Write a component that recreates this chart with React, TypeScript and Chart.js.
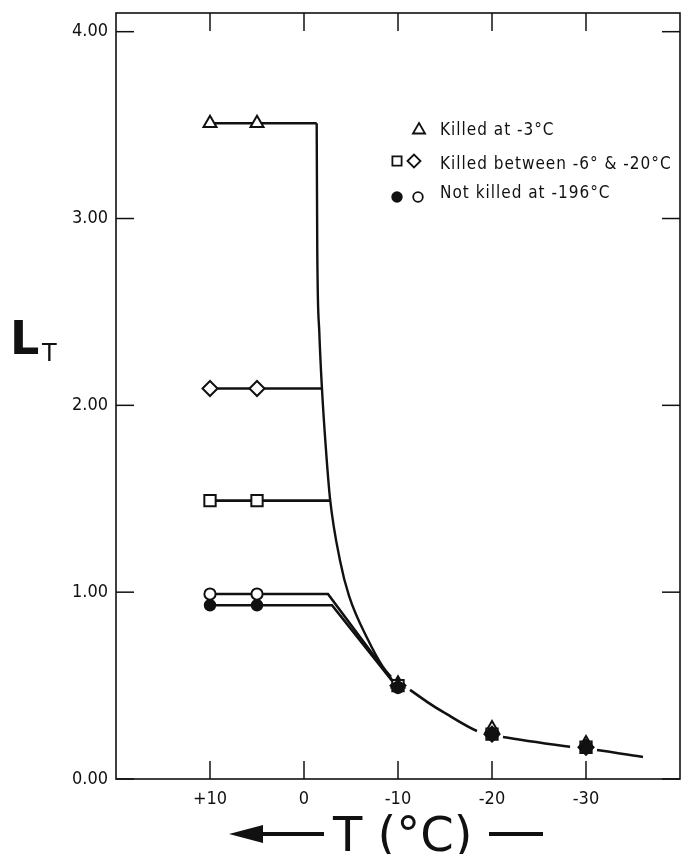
import { useEffect, useRef } from 'react';
import { Chart, registerables } from 'chart.js';
import { drawPoint } from 'chart.js/helpers';

Chart.register(...registerables);

// ---------- data ----------
const markerTemps = [10, 5, -10, -20, -30];
const triangleValues = [3.51, 3.51, 0.51, 0.27, 0.19];
const diamondValues = [2.09, 2.09, 0.5, 0.24, 0.17];
const squareValues = [1.49, 1.49, 0.5, 0.24, 0.17];
const openCircleValues = [0.99, 0.99, 0.49, 0.24, 0.17];
const filledCircleValues = [0.93, 0.93, 0.49, 0.24, 0.17];

// plateau lines (from +10 °C to where they meet the curve)
const plateauStartTemp = 10;
const plateauLevels = [3.51, 2.09, 1.49];
const plateauEndTemps = [-1.35, -1.91, -2.77];

// the two lower lines that bend down towards -10 °C
const openLineTemps = [10, -2.55, -9.36];
const openLineValues = [0.99, 0.99, 0.53];
const filledLineTemps = [10, -2.98, -9.47];
const filledLineValues = [0.93, 0.93, 0.52];

// main steep curve
const curveTemps = [-1.35, -1.41, -1.63, -1.91, -2.34, -2.77, -3.83, -4.79, -6.81, -8.4, -9.26];
const curveValues = [3.51, 2.84, 2.39, 2.09, 1.76, 1.5, 1.17, 0.98, 0.745, 0.6, 0.547];

// tail curve beyond -10 °C (broken around the markers)
const tailTemps = [-11.28, -13.09, -14.79, -18.4, -21.17, -28.3, -31.17, -36.06];
const tailValues = [0.477, 0.413, 0.359, 0.257, 0.225, 0.172, 0.155, 0.118];
const tailGapAfter = [3, 5];

const xTickValues = [10, 0, -10, -20, -30];
const yTickValues = [0, 1, 2, 3, 4];

const legendLabels = ['Killed at -3°C', 'Killed between -6° & -20°C', 'Not killed at -196°C'];
const xTitle = 'T (°C)';
const yTitleMain = 'L';
const yTitleSub = 'T';

const FONT = '"DejaVu Sans Condensed", "DejaVu Sans", sans-serif';
const INK = '#111';

const pts = (xs: number[], ys: number[]) => xs.map((x, i) => ({ x, y: ys[i] }));

const decorPlugin = {
  id: 'decor',
  beforeDatasetsDraw(chart: any) {
    const { ctx, chartArea: a, scales } = chart;
    ctx.save();
    ctx.strokeStyle = INK;
    ctx.lineWidth = 1.6;
    ctx.strokeRect(a.left, a.top, a.right - a.left, a.bottom - a.top);
    const L = 18;
    const seg = (x1: number, y1: number, x2: number, y2: number) => {
      ctx.beginPath();
      ctx.moveTo(x1, y1);
      ctx.lineTo(x2, y2);
      ctx.stroke();
    };
    ctx.lineWidth = 1.5;
    scales.x.ticks.forEach((t: any) => {
      const p = scales.x.getPixelForValue(t.value);
      seg(p, a.bottom, p, a.bottom - L);
      seg(p, a.top, p, a.top + L);
    });
    scales.y.ticks.forEach((t: any) => {
      const p = scales.y.getPixelForValue(t.value);
      seg(a.left, p, a.left + L, p);
      seg(a.right, p, a.right - L, p);
    });
    ctx.restore();
  },
  afterDraw(chart: any) {
    const { ctx } = chart;
    ctx.save();
    ctx.fillStyle = INK;
    ctx.strokeStyle = INK;

    // legend
    ctx.font = `17px ${FONT}`;
    (ctx as any).letterSpacing = '1px';
    ctx.textBaseline = 'alphabetic';
    ctx.textAlign = 'left';
    const rows = [135, 169, 198];
    legendLabels.forEach((lab, i) => {
      ctx.fillStyle = INK;
      ctx.fillText(lab, 440, rows[i]);
    });
    const mk = (style: string, r: number, x: number, y: number, fill: string) => {
      ctx.fillStyle = fill;
      ctx.strokeStyle = INK;
      ctx.lineWidth = 1.8;
      drawPoint(ctx, { pointStyle: style, radius: r, rotation: 0, borderWidth: 1.8 } as any, x, y);
    };
    mk('triangle', 7, 419, 130, '#fff');
    mk('rect', 6.5, 397, 161, '#fff');
    mk('rectRot', 6.5, 414, 161, '#fff');
    mk('circle', 4.8, 397, 197, INK);
    mk('circle', 4.8, 418, 197, '#fff');

    // y title
    (ctx as any).letterSpacing = '0px';
    ctx.fillStyle = INK;
    ctx.font = `bold 46px "DejaVu Sans", sans-serif`;
    ctx.fillText(yTitleMain, 10, 354);
    ctx.font = `24px "DejaVu Sans", sans-serif`;
    ctx.fillText(yTitleSub, 42, 361);

    // x title with arrow
    ctx.font = `48px "DejaVu Sans", sans-serif`;
    ctx.fillText(xTitle, 333, 851);
    ctx.beginPath();
    ctx.moveTo(229, 834);
    ctx.lineTo(263, 825);
    ctx.lineTo(263, 843);
    ctx.closePath();
    ctx.fill();
    ctx.fillRect(260, 832, 64, 4);
    ctx.fillRect(489, 832, 54, 4);
    ctx.restore();
  },
};

export default function App() {
  const ref = useRef<HTMLCanvasElement | null>(null);
  useEffect(() => {
    if (!ref.current) return;
    const line = (data: any[], extra: any = {}) => ({
      type: 'scatter',
      data,
      showLine: true,
      pointRadius: 0,
      borderColor: INK,
      borderWidth: 2.6,
      tension: 0,
      order: 10,
      ...extra,
    });
    const marker = (values: number[], style: string, r: number, fill: string, order: number) => ({
      data: pts(markerTemps, values),
      showLine: false,
      pointStyle: style,
      pointRadius: r,
      pointBackgroundColor: fill,
      pointBorderColor: INK,
      pointBorderWidth: 2,
      order,
    });
    const datasets: any[] = [
      marker(filledCircleValues, 'circle', 5.2, INK, 0),
      marker(openCircleValues, 'circle', 5.6, '#fff', 1),
      marker(squareValues, 'rect', 8, '#fff', 2),
      marker(diamondValues, 'rectRot', 7.5, '#fff', 3),
      marker(triangleValues, 'triangle', 7.5, '#fff', 4),
      ...plateauLevels.map((lv, i) =>
        line([{ x: plateauStartTemp, y: lv }, { x: plateauEndTemps[i], y: lv }])
      ),
      line(pts(openLineTemps, openLineValues)),
      line(pts(filledLineTemps, filledLineValues)),
      line(pts(curveTemps, curveValues), { cubicInterpolationMode: 'monotone', borderWidth: 2.4 }),
      line(pts(tailTemps, tailValues), {
        tension: 0.3,
        borderWidth: 2.6,
        segment: {
          borderColor: (c: any) => (tailGapAfter.includes(c.p0DataIndex) ? 'rgba(0,0,0,0)' : INK),
        },
      }),
    ];
    const chart = new Chart(ref.current, {
      type: 'scatter',
      data: { datasets },
      options: {
        animation: false,
        responsive: true,
        maintainAspectRatio: false,
        layout: { autoPadding: false, padding: { top: 13, right: 1, left: 0, bottom: 0 } },
        plugins: { legend: { display: false }, tooltip: { enabled: false } },
        scales: {
          x: {
            type: 'linear',
            min: -40,
            max: 20,
            reverse: true,
            afterBuildTicks: (s: any) => {
              s.ticks = xTickValues.map((v) => ({ value: v }));
            },
            afterFit: (s: any) => {
              s.height = 75;
            },
            grid: { display: false, drawTicks: false },
            border: { display: false },
            ticks: {
              autoSkip: false,
              maxRotation: 0,
              padding: 10,
              color: INK,
              font: { family: FONT, size: 18 },
              callback: (v: any) => (Number(v) > 0 ? '+' + v : String(v)),
            },
          },
          y: {
            type: 'linear',
            min: 0,
            max: 4.1,
            afterBuildTicks: (s: any) => {
              s.ticks = yTickValues.map((v) => ({ value: v }));
            },
            afterFit: (s: any) => {
              s.width = 116;
            },
            grid: { display: false, drawTicks: false },
            border: { display: false },
            ticks: {
              padding: 8,
              color: INK,
              font: { family: FONT, size: 18, lineHeight: 0.5 },
              callback: (v: any) => Number(v).toFixed(2),
            },
          },
        },
      },
      plugins: [decorPlugin],
    } as any);
    return () => chart.destroy();
  }, []);
  return (
    <div style={{ position: 'absolute', left: 0, top: 0, width: 681, height: 854, background: '#fff' }}>
      <canvas ref={ref} />
    </div>
  );
}
